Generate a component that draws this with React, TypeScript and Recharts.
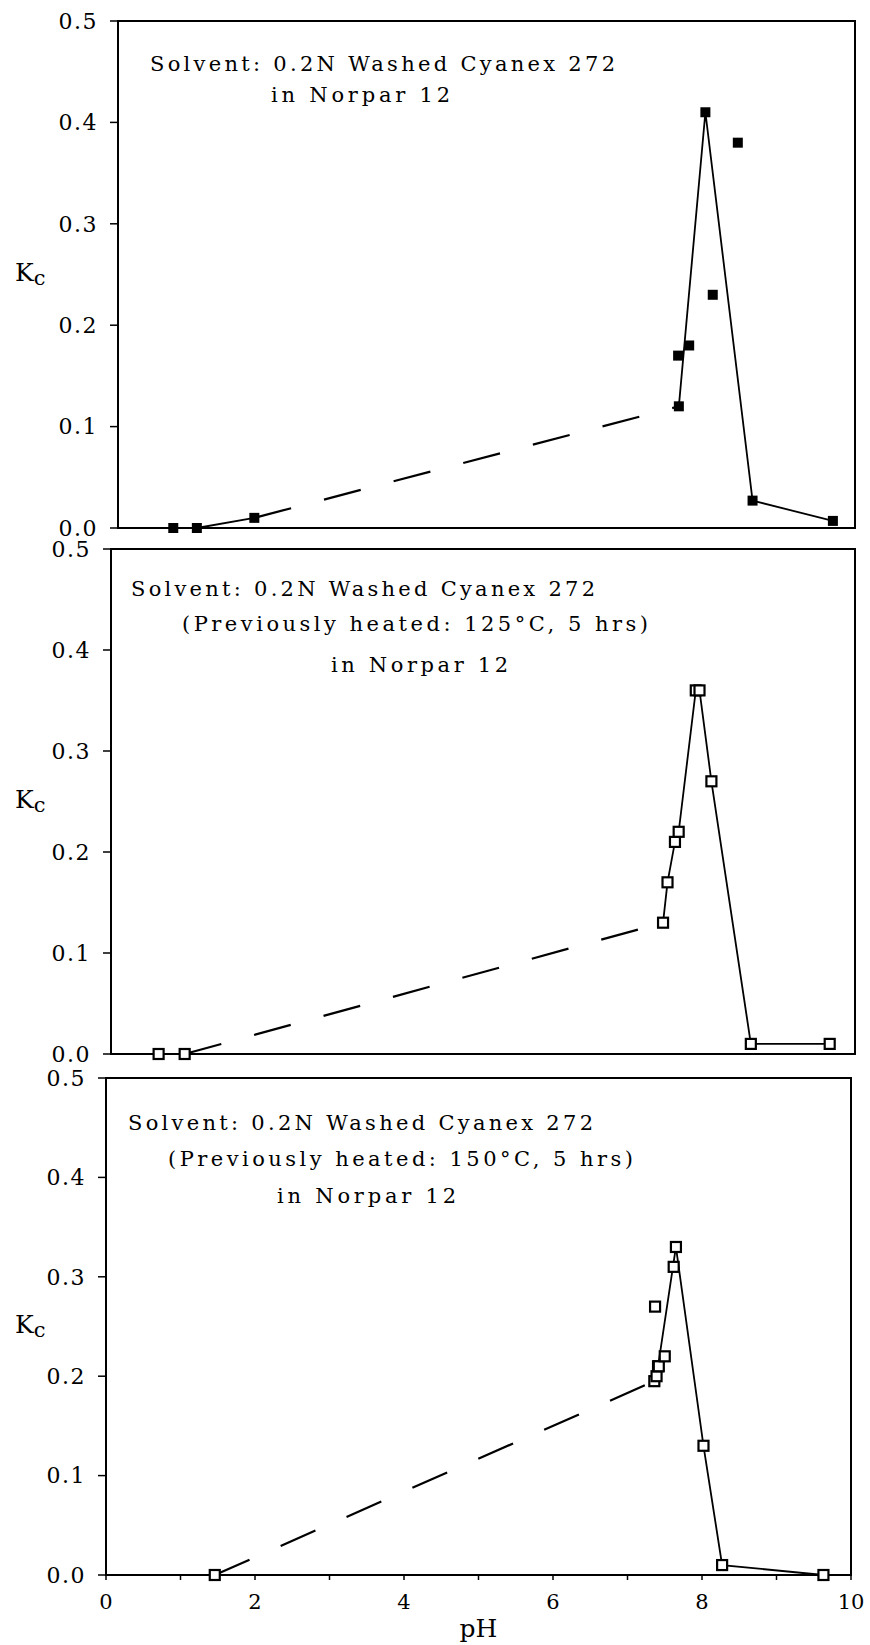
import React from 'react';
import { ScatterChart, Scatter, XAxis, YAxis, ReferenceArea } from 'recharts';

// panel 1: washed Cyanex 272
const washedPH = [0.75, 1.07, 1.85, 7.6, 7.61, 7.75, 7.97, 8.07, 8.41, 8.61, 9.7];
const washedKc = [0, 0, 0.01, 0.17, 0.12, 0.18, 0.41, 0.23, 0.38, 0.027, 0.007];
// curves join these points (indices into the arrays above)
const washedSolid = [[0, 1, 2], [4, 6, 9, 10]];
const washedDashed = [2, 4];

// panel 2: previously heated 125°C
const heated125PH = [0.64, 0.99, 7.42, 7.48, 7.58, 7.63, 7.86, 7.91, 8.07, 8.6, 9.66];
const heated125Kc = [0, 0, 0.13, 0.17, 0.21, 0.22, 0.36, 0.36, 0.27, 0.01, 0.01];
const heated125Solid = [[0, 1], [2, 3, 4, 5, 6, 7, 8, 9, 10]];
const heated125Dashed = [1, 2];

// panel 3: previously heated 150°C
const heated150PH = [1.46, 7.36, 7.37, 7.39, 7.41, 7.42, 7.5, 7.62, 7.65, 8.02, 8.27, 9.63];
const heated150Kc = [0, 0.195, 0.27, 0.2, 0.21, 0.21, 0.22, 0.31, 0.33, 0.13, 0.01, 0];
const heated150Solid = [[1, 4, 8, 9, 10, 11]];
const heated150Dashed = [0, 1];

const kcTicks = [0, 0.1, 0.2, 0.3, 0.4, 0.5];
const phTicks = [0, 1, 2, 3, 4, 5, 6, 7, 8, 9, 10];
const phLabelled = [0, 2, 4, 6, 8, 10];

const washedNote = ['Solvent: 0.2N Washed Cyanex 272', 'in Norpar 12'];
const heated125Note = ['Solvent: 0.2N Washed Cyanex 272', '(Previously heated: 125°C, 5 hrs)', 'in Norpar 12'];
const heated150Note = ['Solvent: 0.2N Washed Cyanex 272', '(Previously heated: 150°C, 5 hrs)', 'in Norpar 12'];

const FONT = 'DejaVu Serif';
const MT = 20;

const FilledSquare = (p: any) => <rect x={p.cx - 5} y={p.cy - 5} width={10} height={10} fill="#000" />;
const OpenSquare = (p: any) => (
  <rect x={p.cx - 5} y={p.cy - 5} width={10} height={10} fill="#fff" stroke="#000" strokeWidth={2.2} />
);
const noMark = () => <g />;

const renderPhTick = (p: any) => {
  if (!phLabelled.includes(p.payload.value)) return <g />;
  return (
    <text x={p.x} y={p.y} dy="0.71em" textAnchor="middle" fontSize={21} fontFamily={FONT} fill="#000">
      {p.payload.value}
    </text>
  );
};

const renderKc = (p: any) => {
  const vb = p.viewBox;
  const cy = vb.y + vb.height / 2;
  return (
    <text x={15} y={cy + 6} fontSize={25} fontFamily={FONT} fill="#000">
      K<tspan fontSize={21} dy={4}>c</tspan>
    </text>
  );
};

type NoteLine = { x: number; y: number; w: number };

interface PanelProps {
  ph: number[];
  kc: number[];
  solid: number[][];
  dashed: number[];
  filled: boolean;
  left: number;
  right: number;
  top: number;
  bottom: number;
  showPh: boolean;
}

const Panel: React.FC<PanelProps> = ({ ph, kc, solid, dashed, filled, left, right, top, bottom, showPh }) => {
  const pts = ph.map((x, i) => ({ x, y: kc[i] }));
  const pick = (idx: number[]) => idx.map((i) => pts[i]);
  const axisH = showPh ? 70 : 30;
  return (
    <div style={{ position: 'absolute', left: 0, top: top - MT }}>
      <ScatterChart
        width={870}
        height={bottom - top + MT + axisH}
        margin={{ top: MT, right: 870 - right, bottom: 0, left: 0 }}
      >
        <XAxis
          type="number"
          dataKey="x"
          domain={[0, 10]}
          ticks={phTicks}
          interval={0}
          height={axisH}
          tick={showPh ? renderPhTick : false}
          tickSize={5}
          tickMargin={14}
          axisLine={{ stroke: '#000', strokeWidth: 2 }}
          tickLine={{ stroke: '#000', strokeWidth: 1.5 }}
          label={
            showPh
              ? { value: 'pH', position: 'insideBottom', offset: 8, fontSize: 25, fontFamily: FONT, fill: '#000' }
              : undefined
          }
        />
        <YAxis
          type="number"
          dataKey="y"
          domain={[0, 0.5]}
          ticks={kcTicks}
          interval={0}
          width={left}
          tickSize={8}
          tickMargin={12}
          tickFormatter={(v: number) => v.toFixed(1)}
          tick={{ fill: '#000', fontSize: 22, fontFamily: FONT, letterSpacing: 1.5 }}
          axisLine={{ stroke: '#000', strokeWidth: 2 }}
          tickLine={{ stroke: '#000', strokeWidth: 1.5 }}
          label={renderKc}
        />
        <ReferenceArea x1={0} x2={10} y1={0} y2={0.5} fill="none" stroke="#000" strokeWidth={2} />
        {solid.map((idx, k) => (
          <Scatter
            key={'solid' + k}
            data={pick(idx)}
            fill="#000"
            line={{ stroke: '#000', strokeWidth: 1.8 }}
            shape={noMark}
            isAnimationActive={false}
          />
        ))}
        <Scatter
          data={pick(dashed)}
          fill="#000"
          line={{ stroke: '#000', strokeWidth: 2.2, strokeDasharray: '38 34' }}
          shape={noMark}
          isAnimationActive={false}
        />
        <Scatter data={pts} fill="#000" shape={filled ? FilledSquare : OpenSquare} isAnimationActive={false} />
      </ScatterChart>
    </div>
  );
};

const Note: React.FC<{ lines: string[]; layout: NoteLine[] }> = ({ lines, layout }) => (
  <>
    {lines.map((t, i) => (
      <text
        key={i}
        x={layout[i].x}
        y={layout[i].y}
        textLength={layout[i].w}
        lengthAdjust="spacing"
        fontSize={21}
        fontFamily={FONT}
        fill="#000"
      >
        {t}
      </text>
    ))}
  </>
);

export default function App() {
  return (
    <div style={{ position: 'absolute', left: 0, top: 0, width: 870, height: 1645, background: '#fff', fontFamily: FONT }}>
      <Panel ph={washedPH} kc={washedKc} solid={washedSolid} dashed={washedDashed} filled
        left={118} right={855} top={21} bottom={528} showPh={false} />
      <Panel ph={heated125PH} kc={heated125Kc} solid={heated125Solid} dashed={heated125Dashed} filled={false}
        left={111} right={855} top={549} bottom={1054} showPh={false} />
      <Panel ph={heated150PH} kc={heated150Kc} solid={heated150Solid} dashed={heated150Dashed} filled={false}
        left={106} right={851} top={1078} bottom={1575} showPh />
      <svg width={870} height={1645} style={{ position: 'absolute', left: 0, top: 0, pointerEvents: 'none' }}>
        <Note lines={washedNote} layout={[{ x: 150, y: 71, w: 465 }, { x: 271, y: 102, w: 179 }]} />
        <Note
          lines={heated125Note}
          layout={[{ x: 131, y: 596, w: 464 }, { x: 182, y: 631, w: 466 }, { x: 331, y: 672, w: 177 }]}
        />
        <Note
          lines={heated150Note}
          layout={[{ x: 128, y: 1130, w: 465 }, { x: 168, y: 1166, w: 465 }, { x: 277, y: 1203, w: 179 }]}
        />
      </svg>
    </div>
  );
}
